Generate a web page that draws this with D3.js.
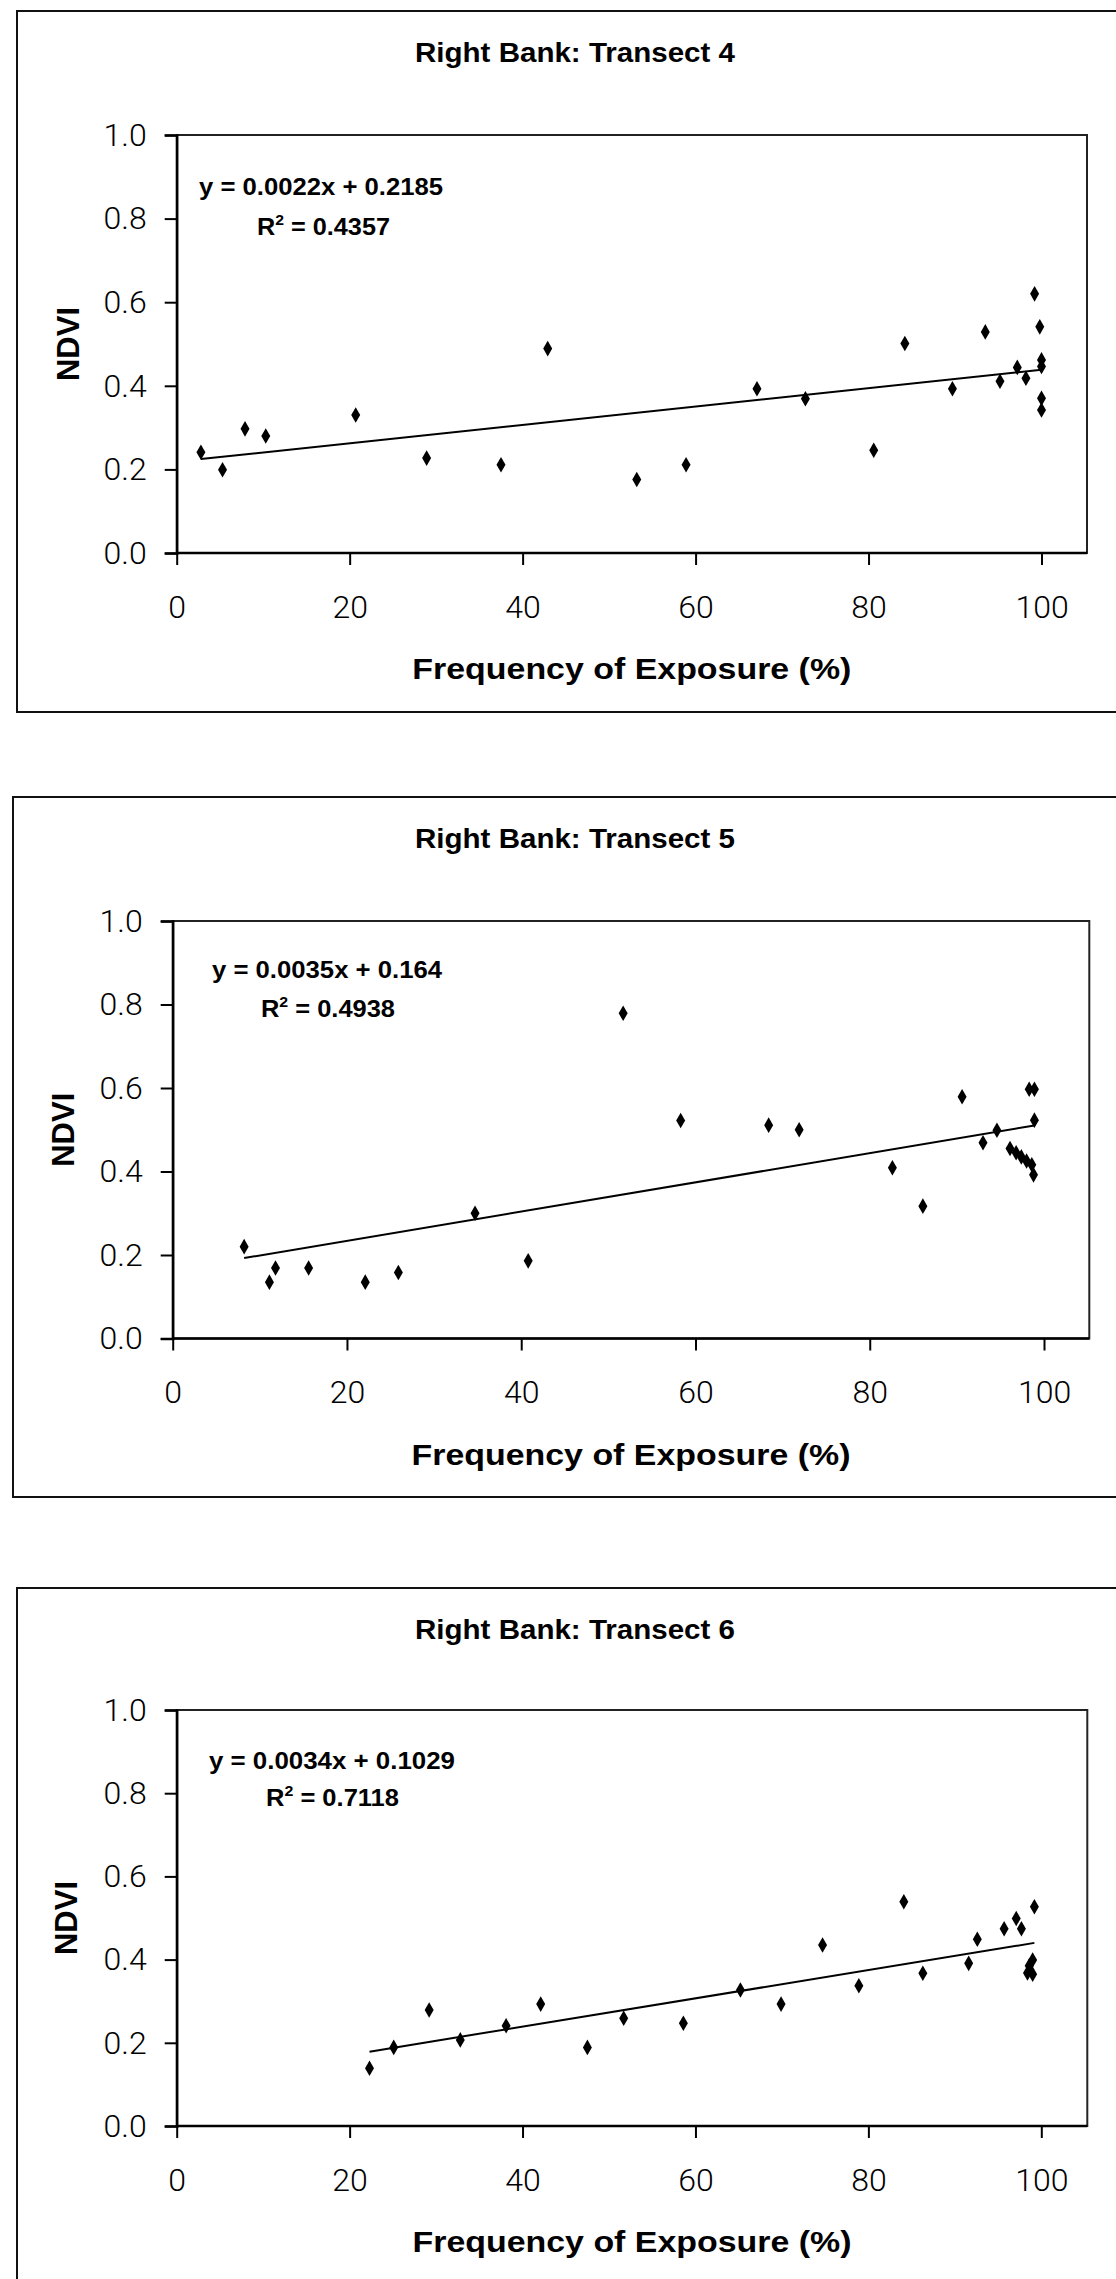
<!DOCTYPE html>
<html>
<head>
<meta charset="utf-8">
<script src="https://cdn.jsdelivr.net/npm/d3@7"></script>
<style>
  html, body { margin: 0; padding: 0; background: #fff; }
  svg { display: block; }
</style>
</head>
<body>
<svg id="chart" width="1116" height="2279"></svg>
<script>
// ---------------- DATA ----------------
const titles = ["Right Bank: Transect 4", "Right Bank: Transect 5", "Right Bank: Transect 6"];
const xTicks = [0, 20, 40, 60, 80, 100];
const yTicks = [0.0, 0.2, 0.4, 0.6, 0.8, 1.0];
const xAxisTitle = "Frequency of Exposure (%)";
const yAxisTitle = "NDVI";

// Transect 4
const t4x = [2.8, 5.3, 7.9, 10.3, 20.7, 28.9, 37.5, 42.9, 53.2, 58.9, 67.1, 72.7, 80.6, 84.2, 89.7, 93.5, 95.2, 97.2, 98.2, 99.2, 99.8, 100, 100, 100, 100];
const t4y = [0.241, 0.199, 0.297, 0.280, 0.330, 0.227, 0.211, 0.489, 0.176, 0.211, 0.393, 0.369, 0.246, 0.501, 0.393, 0.529, 0.411, 0.444, 0.418, 0.620, 0.541, 0.462, 0.446, 0.370, 0.342];
// Transect 5
const t5x = [8.2, 11.1, 11.8, 15.6, 22.1, 25.9, 34.7, 40.8, 51.7, 58.3, 68.4, 71.9, 82.6, 86.1, 90.6, 93.0, 94.6, 96.1, 96.8, 97.4, 98.0, 98.6, 98.3, 98.9, 98.9, 98.8];
const t5y = [0.220, 0.135, 0.169, 0.169, 0.135, 0.158, 0.300, 0.186, 0.779, 0.522, 0.511, 0.500, 0.409, 0.317, 0.579, 0.469, 0.499, 0.455, 0.445, 0.435, 0.425, 0.416, 0.597, 0.597, 0.523, 0.392];
// Transect 6
const t6x = [22.3, 25.1, 29.2, 32.8, 38.1, 42.1, 47.5, 51.7, 58.6, 65.2, 69.9, 74.7, 78.9, 84.1, 86.3, 91.6, 92.6, 95.7, 97.1, 97.7, 99.2, 99.0, 98.6, 98.4, 99.0];
const t6y = [0.139, 0.189, 0.279, 0.207, 0.241, 0.293, 0.189, 0.259, 0.247, 0.327, 0.293, 0.435, 0.337, 0.539, 0.367, 0.391, 0.449, 0.474, 0.499, 0.474, 0.527, 0.399, 0.385, 0.368, 0.365];

const slopes = [0.0022, 0.0035, 0.0034];
const intercepts = [0.2185, 0.164, 0.1029];
const equations = ["y = 0.0022x + 0.2185", "y = 0.0035x + 0.164", "y = 0.0034x + 0.1029"];
const r2Values = ["0.4357", "0.4938", "0.7118"];

// ---------------- LAYOUT ----------------
const layouts = [
  { box: [17, 11, 1200, 701], plot: [176.7, 135, 1087, 553], x100: 1041.5, ndviX: 68,
    eq: [199, 195, 244], r2: [257, 235, 133] },
  { box: [13, 797, 1200, 700], plot: [172.7, 921, 1089.3, 1338.5], x100: 1044, ndviX: 63,
    eq: [212, 978, 230], r2: [261, 1017, 134] },
  { box: [17, 1588, 1200, 800], plot: [176.7, 1710, 1087.3, 2126], x100: 1041.3, ndviX: 66,
    eq: [209, 1769, 246], r2: [266, 1806, 133] }
];
const series = [[t4x, t4y], [t5x, t5y], [t6x, t6y]];

const svg = d3.select("#chart");
svg.append("rect").attr("width", 1116).attr("height", 2279).attr("fill", "#fff");

const tickFont = "Roboto, 'Liberation Sans', sans-serif";
const boldFont = "'Liberation Sans', Arial, sans-serif";

layouts.forEach((L, i) => {
  const [pl, pt, pr, pb] = L.plot;
  const g = svg.append("g");

  // outer box
  g.append("rect")
    .attr("x", L.box[0]).attr("y", L.box[1])
    .attr("width", L.box[2]).attr("height", L.box[3])
    .attr("fill", "none").attr("stroke", "#111").attr("stroke-width", 2);

  const x = d3.scaleLinear().domain([0, 100]).range([pl, L.x100]);
  const y = d3.scaleLinear().domain([0, 1]).range([pb, pt]);

  // title
  g.append("text")
    .attr("x", 415).attr("y", L.box[1] + 51)
    .attr("font-family", boldFont).attr("font-weight", "bold").attr("font-size", 27)
    .attr("textLength", 320).attr("lengthAdjust", "spacingAndGlyphs")
    .attr("fill", "#000")
    .text(titles[i]);

  // plot frame
  g.append("rect")
    .attr("x", pl).attr("y", pt).attr("width", pr - pl).attr("height", pb - pt)
    .attr("fill", "none").attr("stroke", "#222").attr("stroke-width", 2);

  // y axis
  const ya = g.append("g").attr("transform", `translate(${pl},0)`)
    .call(d3.axisLeft(y).tickValues(yTicks).tickSize(12).tickPadding(18).tickFormat(d3.format(".1f")));
  ya.select(".domain").attr("stroke", "#000").attr("stroke-width", 2.5);
  ya.selectAll(".tick line").attr("stroke", "#000").attr("stroke-width", 2);
  ya.selectAll(".tick text").attr("font-family", tickFont).attr("font-weight", 300)
    .attr("font-size", 32).attr("fill", "#000");

  // x axis
  const xa = g.append("g").attr("transform", `translate(0,${pb})`)
    .call(d3.axisBottom(x).tickValues(xTicks).tickSize(12).tickPadding(30).tickFormat(d3.format("d")));
  xa.select(".domain").remove();
  xa.append("line").attr("x1", pl).attr("x2", pr).attr("stroke", "#000").attr("stroke-width", 2.5);
  xa.selectAll(".tick line").attr("stroke", "#000").attr("stroke-width", 2);
  xa.selectAll(".tick text").attr("font-family", tickFont).attr("font-weight", 300)
    .attr("font-size", 32).attr("fill", "#000");

  // axis titles
  g.append("text")
    .attr("x", (pl + pr) / 2).attr("y", pb + 126)
    .attr("text-anchor", "middle")
    .attr("font-family", boldFont).attr("font-weight", "bold").attr("font-size", 30)
    .attr("textLength", 439).attr("lengthAdjust", "spacingAndGlyphs")
    .text(xAxisTitle);

  g.append("text")
    .attr("transform", `translate(${L.ndviX + 11},${(pt + pb) / 2}) rotate(-90)`)
    .attr("text-anchor", "middle")
    .attr("font-family", boldFont).attr("font-weight", "bold").attr("font-size", 31)
    .text(yAxisTitle);

  // trend line
  const xs = series[i][0], ys = series[i][1];
  const xmin = d3.min(xs), xmax = d3.max(xs);
  g.append("line")
    .attr("x1", x(xmin)).attr("y1", y(slopes[i] * xmin + intercepts[i]))
    .attr("x2", x(xmax)).attr("y2", y(slopes[i] * xmax + intercepts[i]))
    .attr("stroke", "#000").attr("stroke-width", 2);

  // points
  const sym = d3.symbol().type(d3.symbolDiamond).size(70);
  g.selectAll("path.pt").data(xs.map((v, k) => [v, ys[k]])).enter()
    .append("path").attr("class", "pt")
    .attr("transform", d => `translate(${x(d[0])},${y(d[1])})`)
    .attr("d", sym).attr("fill", "#000");

  // equation
  g.append("text")
    .attr("x", L.eq[0]).attr("y", L.eq[1])
    .attr("font-family", boldFont).attr("font-weight", "bold").attr("font-size", 24)
    .attr("textLength", L.eq[2]).attr("lengthAdjust", "spacingAndGlyphs")
    .text(equations[i]);
  const r = g.append("text")
    .attr("x", L.r2[0]).attr("y", L.r2[1])
    .attr("font-family", boldFont).attr("font-weight", "bold").attr("font-size", 24)
    .attr("textLength", L.r2[2]).attr("lengthAdjust", "spacingAndGlyphs");
  r.append("tspan").text("R");
  r.append("tspan").attr("dy", -10).attr("font-size", 15).text("2");
  r.append("tspan").attr("dy", 10).text(" = " + r2Values[i]);
});
</script>
</body>
</html>
